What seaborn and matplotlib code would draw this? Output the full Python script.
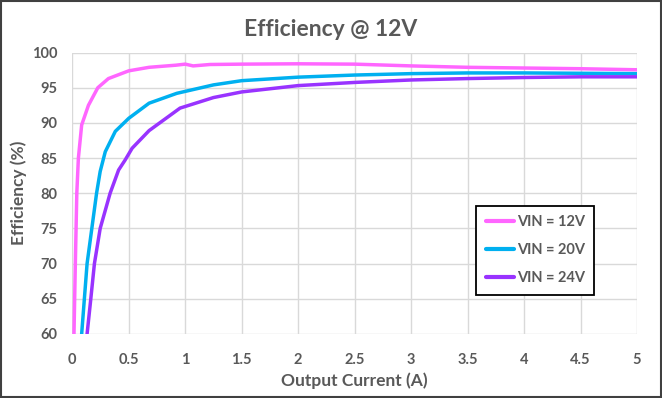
import matplotlib
matplotlib.use("Agg")
import matplotlib.pyplot as plt
import seaborn as sns
import pandas as pd
from matplotlib.patches import Rectangle

# ---- data ----
x_12v = [0.015, 0.027, 0.04, 0.054, 0.083, 0.143, 0.226, 0.32, 0.5, 0.68, 0.917, 1.0, 1.07, 1.22,
         1.5, 2.0, 2.5, 3.0, 3.5, 4.0, 4.5, 5.0]
y_12v = [60, 70, 80, 85, 89.7, 92.5, 95.0, 96.3, 97.4, 97.9, 98.2, 98.35, 98.1, 98.3,
         98.35, 98.4, 98.35, 98.1, 97.9, 97.8, 97.7, 97.55]

x_20v = [0.083, 0.107, 0.131, 0.173, 0.215, 0.247, 0.292, 0.381, 0.5, 0.68, 0.925, 1.25,
         1.5, 2.0, 2.5, 3.0, 3.5, 4.0, 4.5, 5.0]
y_20v = [60, 65, 70, 75, 80, 83.1, 85.9, 88.8, 90.65, 92.8, 94.2, 95.4,
         96.0, 96.5, 96.8, 97.0, 97.1, 97.1, 97.05, 97.0]

x_24v = [0.131, 0.164, 0.196, 0.247, 0.335, 0.41, 0.467, 0.53, 0.68, 0.954, 1.25,
         1.5, 2.0, 2.5, 3.0, 3.5, 4.0, 4.5, 5.0]
y_24v = [60, 65, 70, 75, 80, 83.3, 84.7, 86.4, 88.9, 92.1, 93.6,
         94.4, 95.3, 95.75, 96.1, 96.3, 96.45, 96.55, 96.55]

series_names = ["VIN = 12V", "VIN = 20V", "VIN = 24V"]
series_colors = ["#FF66FF", "#00B0F0", "#9933FF"]

x_ticks = [0, 0.5, 1, 1.5, 2, 2.5, 3, 3.5, 4, 4.5, 5]
x_tick_labels = ["0", "0.5", "1", "1.5", "2", "2.5", "3", "3.5", "4", "4.5", "5"]
y_ticks = [60, 65, 70, 75, 80, 85, 90, 95, 100]

title_text = "Efficiency @ 12V"
x_label = "Output Current (A)"
y_label = "Efficiency (%)"

frames = []
for name, xs, ys in zip(series_names, [x_12v, x_20v, x_24v], [y_12v, y_20v, y_24v]):
    frames.append(pd.DataFrame({"current": xs, "eff": ys, "series": name}))
df = pd.concat(frames, ignore_index=True)

sns.set_theme(style="white")
plt.rcParams["font.family"] = ["Lato", "DejaVu Sans"]
text_color = "#595959"

fig = plt.figure(figsize=(6.62, 3.98), dpi=100)
ax = fig.add_axes([0.1092, 0.161, 0.853, 0.707])

sns.lineplot(data=df, x="current", y="eff", hue="series", hue_order=series_names,
             palette=dict(zip(series_names, series_colors)), estimator=None, sort=False,
             linewidth=2.5, ax=ax, zorder=3)

ax.set_xlim(0, 5)
ax.set_ylim(60, 100)
ax.set_xticks(x_ticks)
ax.set_xticklabels(x_tick_labels)
ax.set_yticks(y_ticks)
ax.grid(True, color="#D9D9D9", linewidth=1.0)
ax.set_axisbelow(True)
for s in ax.spines.values():
    s.set_visible(False)
ax.tick_params(axis="both", length=0, labelsize=10.5, colors=text_color)
ax.tick_params(axis="y", pad=10.5)
ax.tick_params(axis="x", pad=14)
for lbl in ax.get_xticklabels() + ax.get_yticklabels():
    lbl.set_fontweight("bold")

ax.set_xlabel(x_label, fontsize=12.5, fontweight="bold", color=text_color, labelpad=4)
ax.set_ylabel(y_label, fontsize=12.5, fontweight="bold", color=text_color, labelpad=4)
fig.text(0.5, 0.925, title_text, ha="center", va="center", fontsize=16.5,
         fontweight="bold", color=text_color)

leg = ax.legend(loc="upper left", bbox_to_anchor=(0.715, 0.455), borderaxespad=0,
                frameon=True, fancybox=False, edgecolor="black", framealpha=1,
                fontsize=10.5, handlelength=1.95, handletextpad=0.2, labelspacing=0.95,
                borderpad=0.65, title=None)
leg.get_frame().set_linewidth(1.3)
for t in leg.get_texts():
    t.set_color(text_color)
    t.set_fontweight("bold")
for h in leg.get_lines():
    h.set_linewidth(3.0)

fig.patches.append(Rectangle((0.002, 0.003), 0.996, 0.994, transform=fig.transFigure,
                             fill=False, edgecolor="#404040", linewidth=1.5))

fig.savefig("out.png", dpi=100, facecolor="white")
